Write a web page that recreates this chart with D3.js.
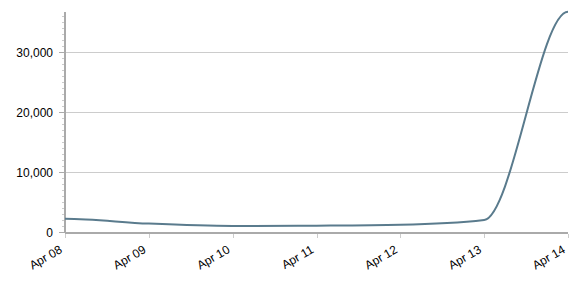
<!DOCTYPE html>
<html><head><meta charset="utf-8">
<script src="https://cdn.jsdelivr.net/npm/d3@7"></script>
<style>body{margin:0;background:#fff;}svg{display:block;}text{font-family:Arial,"Liberation Sans",sans-serif;}</style>
</head><body><svg id="c" width="585" height="295"></svg>
<script>
const dates = ["2024-04-08","2024-04-09","2024-04-10","2024-04-11","2024-04-12","2024-04-13","2024-04-14"];
const values = [2200, 1400, 1000, 1050, 1200, 2000, 36700];
const yTicks = [0, 10000, 20000, 30000];
const xLabels = ["Apr 08","Apr 09","Apr 10","Apr 11","Apr 12","Apr 13","Apr 14"];

// monotone cubic curve with flat end tangents
function FlatEndMonotone(context){ this._context = context; }
FlatEndMonotone.prototype = {
  areaStart(){ this._line = 0; }, areaEnd(){ this._line = NaN; },
  lineStart(){ this._pts = []; },
  point(x, y){ this._pts.push([+x, +y]); },
  lineEnd(){
    const p = this._pts, n = p.length, c = this._context;
    if (!n) return;
    const t = new Array(n).fill(0);
    for (let i = 1; i < n - 1; i++) {
      const h0 = p[i][0]-p[i-1][0], h1 = p[i+1][0]-p[i][0];
      const s0 = (p[i][1]-p[i-1][1])/h0, s1 = (p[i+1][1]-p[i][1])/h1;
      const q = (s0*h1 + s1*h0)/(h0+h1);
      t[i] = (Math.sign(s0)+Math.sign(s1))*Math.min(Math.abs(s0), Math.abs(s1), 0.5*Math.abs(q)) || 0;
    }
    c.moveTo(p[0][0], p[0][1]);
    for (let i = 0; i < n - 1; i++) {
      const dx = (p[i+1][0]-p[i][0])/3;
      c.bezierCurveTo(p[i][0]+dx, p[i][1]+dx*t[i], p[i+1][0]-dx, p[i+1][1]-dx*t[i+1], p[i+1][0], p[i+1][1]);
    }
  }
};
const curveFlatEnd = ctx => new FlatEndMonotone(ctx);

const parse = d3.timeParse("%Y-%m-%d");
const data = dates.map((d,i)=>({date:parse(d), value:values[i]}));
const svg = d3.select("#c");
const L=65, R=568, T=12, B=232;
const x = d3.scaleTime().domain(d3.extent(data,d=>d.date)).range([L,R]);
const y = d3.scaleLinear().domain([0,36667]).range([B,T]);

// grid
svg.append("g").selectAll("line").data(yTicks.filter(t=>t>0)).join("line")
  .attr("x1",L).attr("x2",R).attr("y1",d=>Math.round(y(d))+0.5).attr("y2",d=>Math.round(y(d))+0.5)
  .attr("stroke","#cccccc").attr("stroke-width",1);

// minor ticks
const minor = d3.range(0,37000,1000);
svg.append("g").selectAll("line").data(minor).join("line")
  .attr("x1",L-3).attr("x2",L).attr("y1",d=>Math.round(y(d))+0.5).attr("y2",d=>Math.round(y(d))+0.5)
  .attr("stroke","#cccccc");
// major y ticks
svg.append("g").selectAll("line").data(yTicks).join("line")
  .attr("x1",L-6).attr("x2",L).attr("y1",d=>Math.round(y(d))+0.5).attr("y2",d=>Math.round(y(d))+0.5)
  .attr("stroke","#aaaaaa");
svg.append("g").selectAll("text").data(yTicks).join("text")
  .attr("x",L-12).attr("y",d=>y(d)+4.5).attr("text-anchor","end")
  .attr("font-size","12px").attr("fill","#000").text(d=>d3.format(",")(d));

// axes lines
svg.append("line").attr("x1",L).attr("x2",L).attr("y1",T).attr("y2",B+1).attr("stroke","#aaaaaa").attr("stroke-width",2);
svg.append("line").attr("x1",L).attr("x2",R).attr("y1",B+1).attr("y2",B+1).attr("stroke","#aaaaaa").attr("stroke-width",2);

// x ticks
svg.append("g").selectAll("line").data(data).join("line")
  .attr("x1",d=>Math.round(x(d.date))+0.5).attr("x2",d=>Math.round(x(d.date))+0.5)
  .attr("y1",B+2).attr("y2",B+6).attr("stroke","#cccccc");
svg.append("g").selectAll("text").data(data).join("text")
  .attr("transform",d=>`translate(${x(d.date)-2},${B+20}) rotate(-30)`)
  .attr("text-anchor","end").attr("font-size","12px").attr("fill","#000")
  .text((d,i)=>xLabels[i]);

// line
const line = d3.line().x(d=>x(d.date)).y(d=>y(d.value)).curve(curveFlatEnd);
svg.append("path").datum(data).attr("d",line).attr("fill","none")
  .attr("stroke","#5a7b8d").attr("stroke-width",2);
</script></body></html>
